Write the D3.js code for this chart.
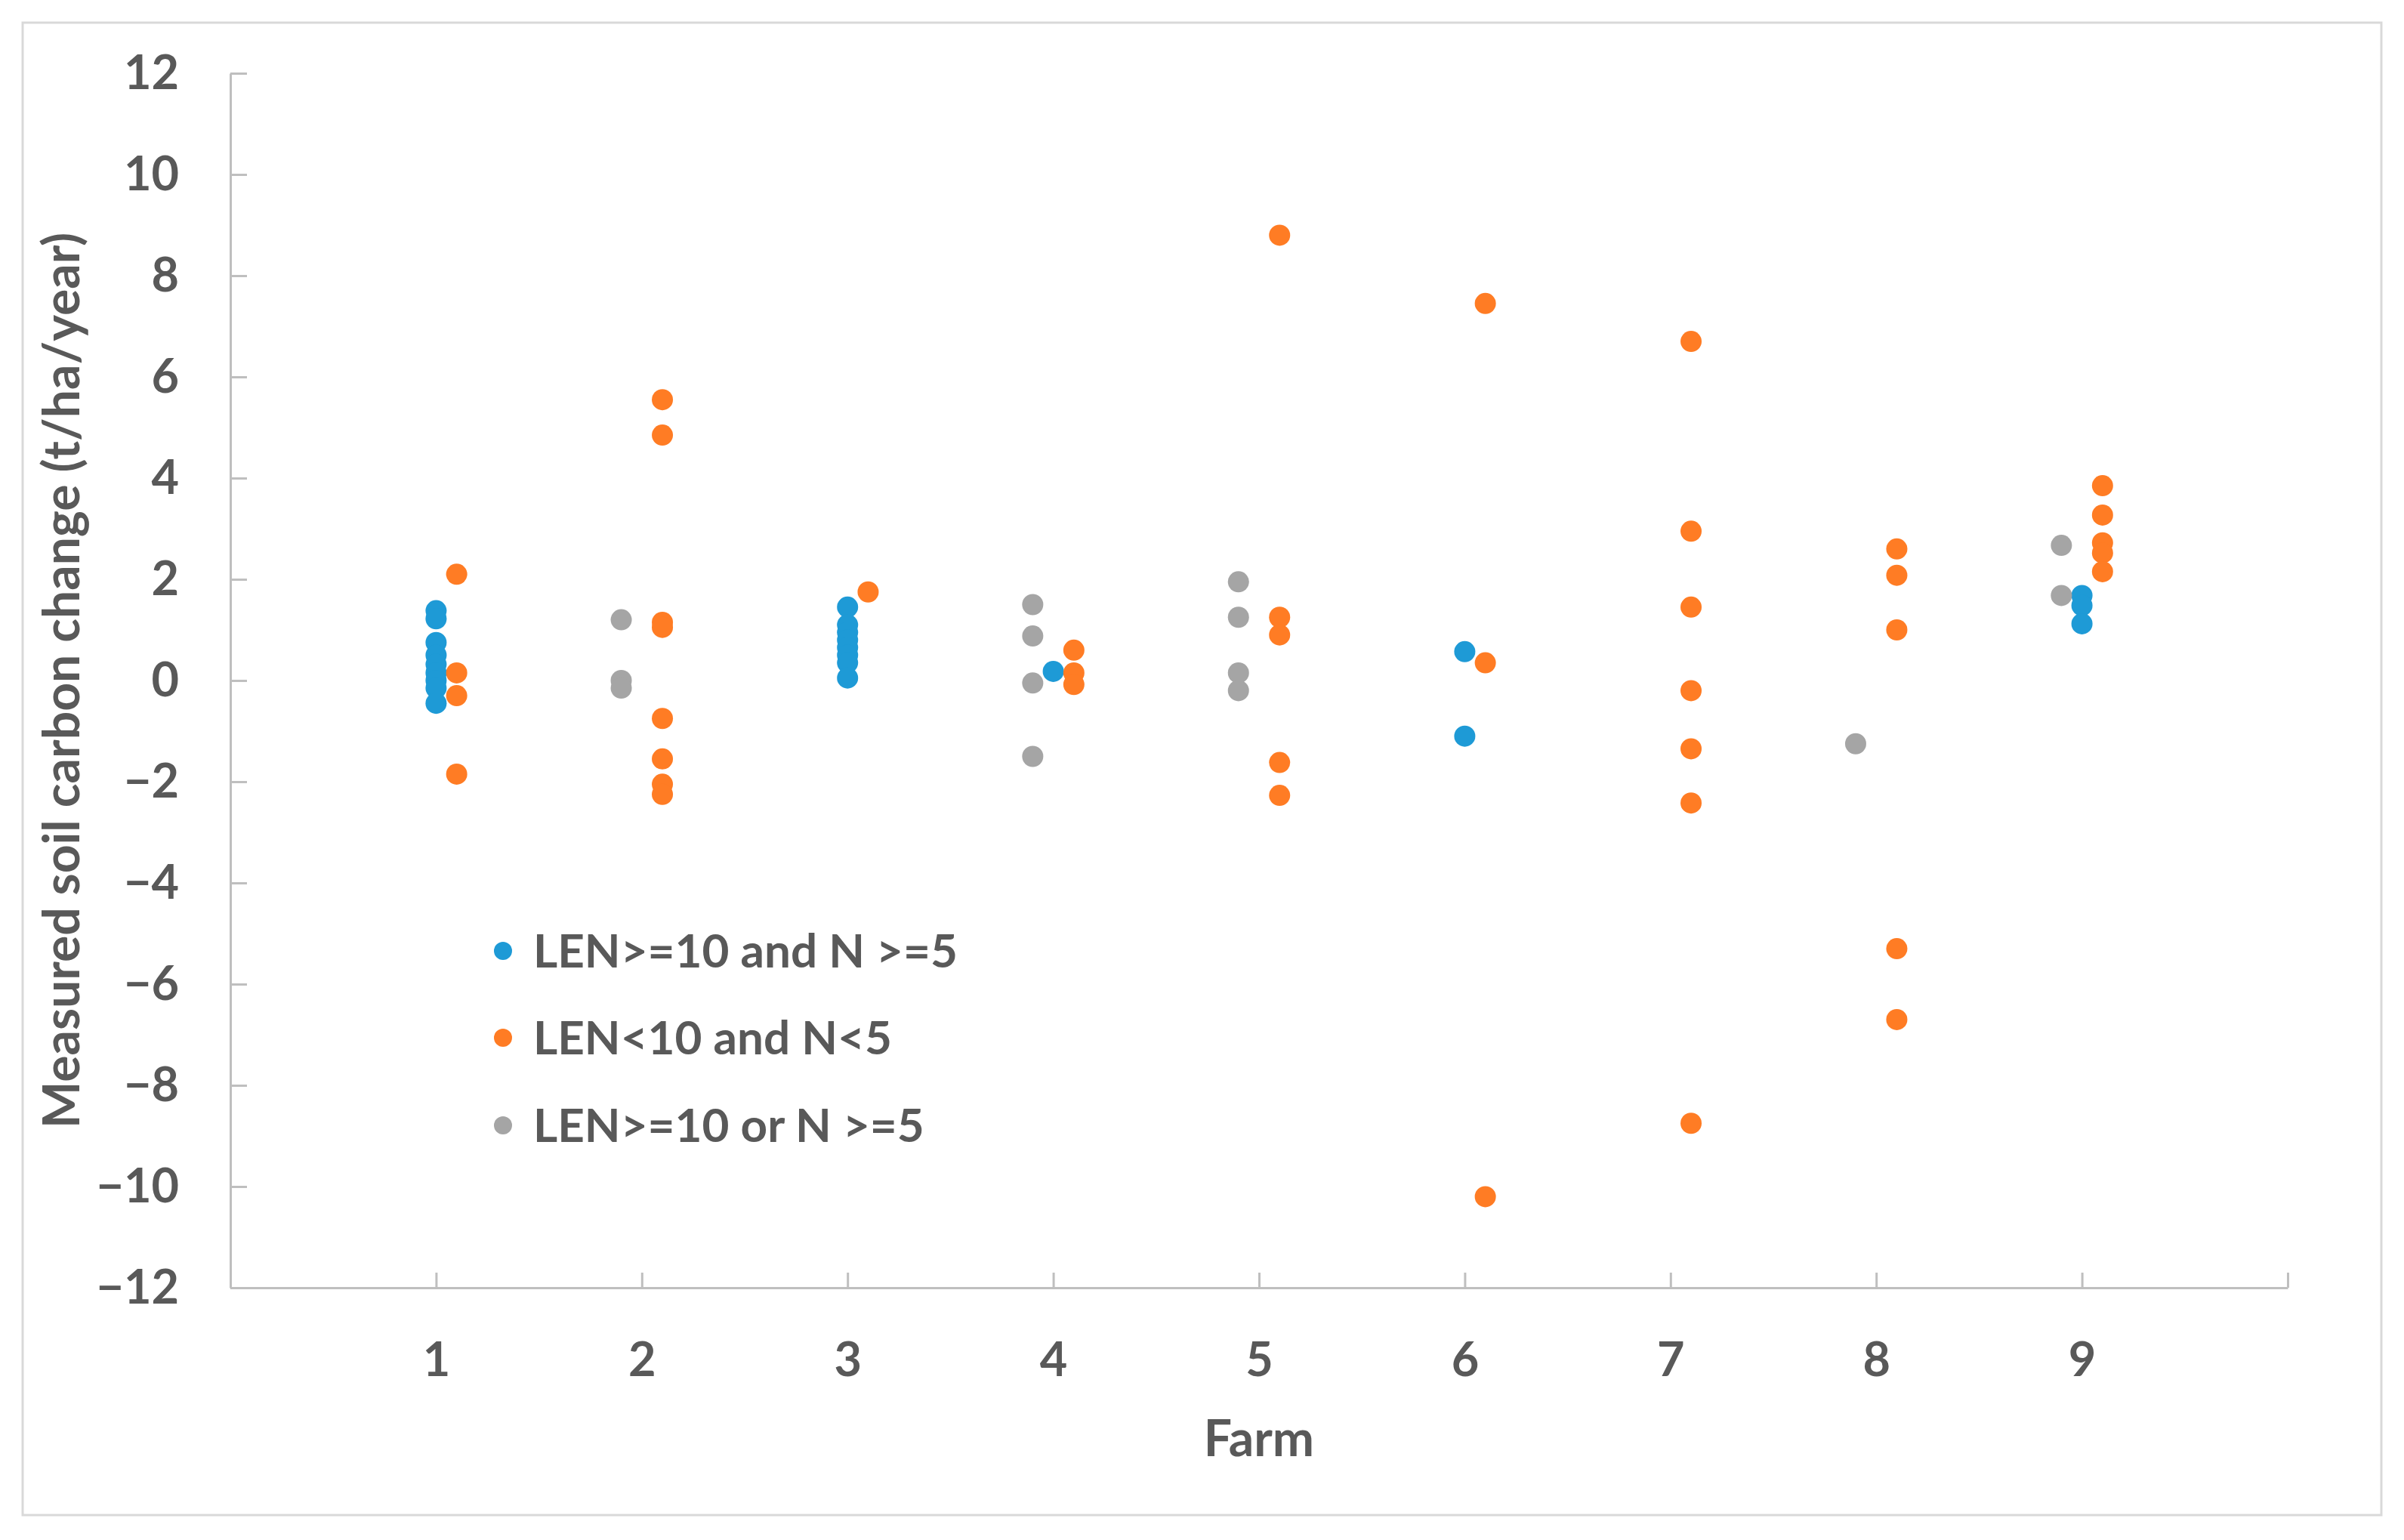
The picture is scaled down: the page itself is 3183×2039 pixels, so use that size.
<!DOCTYPE html>
<html>
<head>
<meta charset="utf-8">
<script src="https://cdn.jsdelivr.net/npm/d3@7/dist/d3.min.js"></script>
<style>
  html, body { margin: 0; padding: 0; background: #fff; }
  svg { display: block; }
  text { font-family: Lato, "Open Sans", sans-serif; font-weight: 700; fill: #595959; }
</style>
</head>
<body>
<script>
// ---- data ----
const farms = [1, 2, 3, 4, 5, 6, 7, 8, 9];
const seriesNames = ["LEN>=10 and N >=5", "LEN<10 and N<5", "LEN>=10 or N >=5"];
const seriesColors = ["#1E9AD6", "#FF7C24", "#A5A5A5"];
const seriesOffsets = [0, 0.1, -0.1];

// values per farm (index = farm-1)
const blueValues = [
  [1.38, 1.22, 0.75, 0.5, 0.32, 0.15, 0.0, -0.15, -0.45],
  [],
  [1.45, 1.1, 0.95, 0.8, 0.65, 0.5, 0.35, 0.05],
  [0.18],
  [],
  [0.57, -1.1],
  [],
  [],
  [1.68, 1.48, 1.12]
];
const orangeValues = [
  [2.1, 0.15, -0.3, -1.85],
  [5.55, 4.85, 1.15, 1.05, -0.75, -1.55, -2.05, -2.25],
  [1.75],
  [0.6, 0.15, -0.08],
  [8.8, 1.25, 0.9, -1.62, -2.27],
  [7.45, 0.35, -10.2],
  [6.7, 2.95, 1.45, -0.2, -1.35, -2.42, -8.75],
  [2.6, 2.08, 1.0, -5.3, -6.7],
  [3.85, 3.27, 2.72, 2.52, 2.15]
];
const grayValues = [
  [],
  [1.2, 0.0, -0.15],
  [],
  [1.5, 0.88, -0.05, -1.5],
  [1.95, 1.25, 0.15, -0.2],
  [],
  [],
  [-1.25],
  [2.67, 1.68]
];
const yTicks = [-12, -10, -8, -6, -4, -2, 0, 2, 4, 6, 8, 10, 12];
const xTicks = [1, 2, 3, 4, 5, 6, 7, 8, 9, 10];
const xLabel = "Farm";
const yLabel = "Measured soil carbon change (t/ha/year)";

// ---- layout ----
const W = 3183, H = 2039;
const plot = { left: 305, right: 3029, top: 97, bottom: 1705 };
const tickFont = 63, legendFont = 62, titleFont = 66;

const svg = d3.select("body").append("svg").attr("width", W).attr("height", H);
svg.append("rect").attr("x", 30).attr("y", 30).attr("width", 3123).attr("height", 1976)
  .attr("fill", "#fff").attr("stroke", "#D9D9D9").attr("stroke-width", 3);

const x = d3.scaleLinear().domain([0, 10]).range([plot.left, plot.right]);
const y = d3.scaleLinear().domain([-12, 12]).range([plot.bottom, plot.top]);

const axisColor = "#BFBFBF";

const gy = svg.append("g").attr("transform", `translate(${plot.left},0)`)
  .call(d3.axisLeft(y).tickValues(yTicks).tickSize(-22).tickSizeOuter(0).tickPadding(68));
const gx = svg.append("g").attr("transform", `translate(0,${plot.bottom})`)
  .call(d3.axisBottom(x).tickValues(xTicks).tickSize(-20).tickSizeOuter(0).tickPadding(72)
    .tickFormat(d => d === 10 ? "" : d3.format("d")(d)));

[gx, gy].forEach(g => {
  g.select(".domain").attr("stroke", axisColor).attr("stroke-width", 3);
  g.selectAll(".tick line").attr("stroke", axisColor).attr("stroke-width", 3);
  g.selectAll(".tick text").attr("font-size", tickFont).attr("fill", "#595959")
    .attr("font-family", "Lato, 'Open Sans', sans-serif").attr("font-weight", 700);
});

// axis titles
svg.append("text").attr("x", (plot.left + plot.right) / 2).attr("y", 1928)
  .attr("text-anchor", "middle").attr("font-size", titleFont).text(xLabel);
svg.append("text").attr("transform", `translate(105,${(plot.top + plot.bottom) / 2}) rotate(-90)`)
  .attr("text-anchor", "middle").attr("font-size", titleFont).text(yLabel);

// points
const allSeries = [blueValues, orangeValues, grayValues];
const points = [];
allSeries.forEach((vals, s) => {
  vals.forEach((arr, i) => {
    arr.forEach(v => points.push({ s, farm: farms[i], v }));
  });
});
svg.append("g").selectAll("circle").data(points).join("circle")
  .attr("cx", d => x(d.farm + seriesOffsets[d.s]))
  .attr("cy", d => y(d.v))
  .attr("r", 14)
  .attr("fill", d => seriesColors[d.s]);

// legend
const legendY = [1259, 1374, 1490];
const lg = svg.append("g");
seriesNames.forEach((name, i) => {
  lg.append("circle").attr("cx", 666).attr("cy", legendY[i]).attr("r", 12).attr("fill", seriesColors[i]);
  lg.append("text").attr("x", 706).attr("y", legendY[i]).attr("dy", "0.36em")
    .attr("font-size", legendFont).text(name);
});
</script>
</body>
</html>
